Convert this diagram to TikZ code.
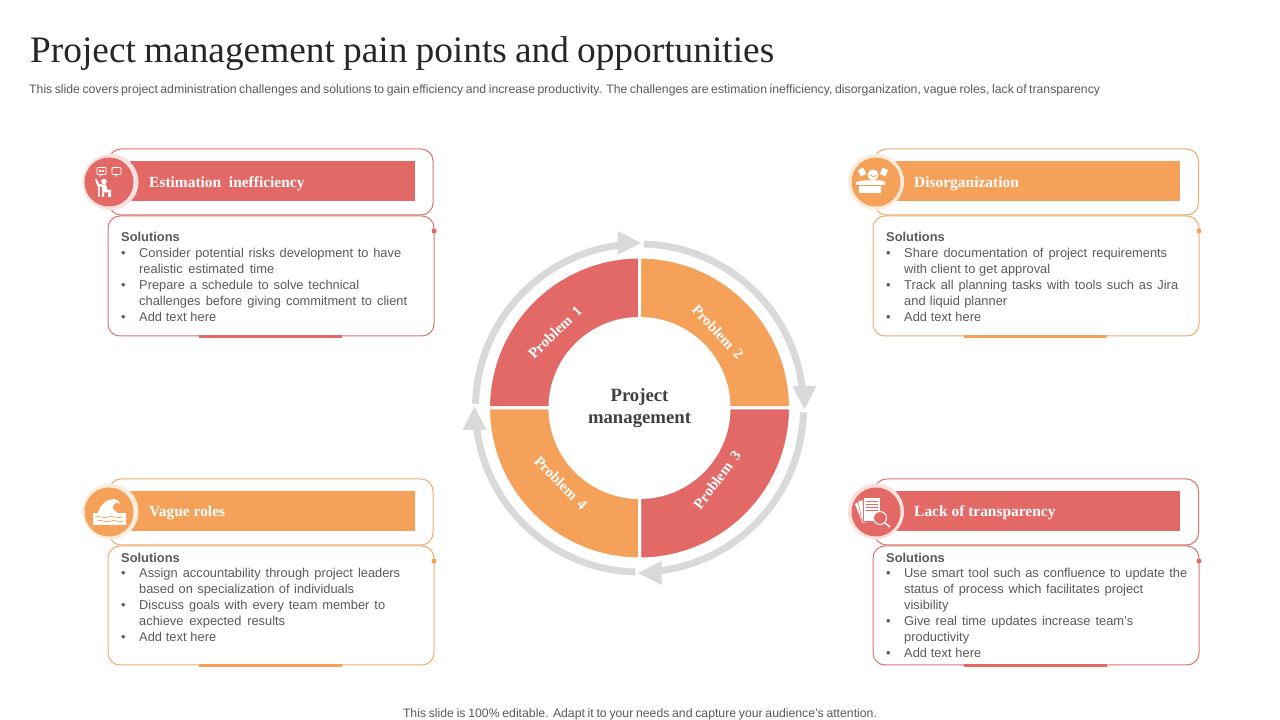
\documentclass[tikz,border=0pt]{standalone}
\usepackage{fontspec}
\setmainfont{Liberation Serif}
\setsansfont{Liberation Sans}
\definecolor{redband}{HTML}{E36966}
\definecolor{orgband}{HTML}{F6A159}
\definecolor{redline}{HTML}{D9746E}
\definecolor{orgline}{HTML}{EDAB70}
\definecolor{redpale}{HTML}{FAE1DE}
\definecolor{orgpale}{HTML}{FDECDC}
\definecolor{ringgray}{HTML}{D9D9D9}
\definecolor{bodytext}{HTML}{595959}
\definecolor{headtext}{HTML}{404040}
\newcommand{\lne}[2]{\makebox[#1bp][s]{#2}}
\newcommand{\bul}[2]{\makebox[18bp][l]{\textbullet}\lne{#1}{#2}}
\newcommand{\cnt}[2]{\hspace*{18bp}\lne{#1}{#2}}
\newcommand{\iconest}{%
  \draw [white,line width=.8bp,rounded corners=1bp] (-12,7.5) rectangle (-3,14.5);
  \draw [white,line width=.8bp,rounded corners=1bp] (3,7.5) rectangle (12,14.5);
  \fill [white] (-9,11) circle (1.3) (-6,11) circle (1.3) (-9,7.5) -- (-7,7.5) -- (-9,5) -- cycle (5,7.5) -- (7,7.5) -- (8,5) -- cycle;
  \fill [white] (-5,0.5) circle (2.8);
  \fill [white] (-7,-2.5) -- (-3,-2.5) -- (-1.5,-8) -- (2,-8) -- (2,-10.5) -- (-7,-10.5) -- cycle;
  \fill [white] (-14,3) -- (-12.5,3) -- (-10,-2) -- (-7,-2.5) -- (-7,-5) -- (-11.5,-4.5) -- cycle;
  \fill [white] (-1,-10.5) rectangle (2,-15) (-7,-10.5) rectangle (-5,-15) (-11,-5) rectangle (-9.5,-15);}
\newcommand{\icondis}{%
  \fill [white,rotate around={25:(-14,10)}] (-17,6.5) rectangle (-11,13.5);
  \fill [white,rotate around={-25:(8,10)}] (5,6.5) rectangle (11,13.5);
  \fill [white] (-3,7) circle (5.5);
  \draw [orgband,line width=.8bp] (-6,7) -- (-2,5) -- (0,7);
  \fill [white] (-12,1.5) -- (5,1.5) -- (9,0) -- (9,-3) -- (5,-3) -- (5,-11) -- (-17,-11) -- (-17,-3) -- (-20,-3) -- (-20,0) -- cycle;
  \draw [orgband,line width=.6bp] (-17,-3) -- (5,-3);}
\newcommand{\iconvag}{%
  \fill [white] (-16,-1) rectangle (17,-13);
  \fill [white] (-11,-1) .. controls (-9,7) and (-2,13) .. (5,13) .. controls (8,13) and (10,11) .. (11,8) .. controls (8,10) and (5,9) .. (4,6) .. controls (3,4) and (5,1) .. (9,-1) -- cycle;
  \draw [orgband,line width=.7bp] (-14,-5) .. controls (-10,-3) and (-6,-7) .. (-1,-5) .. controls (4,-3) and (8,-7) .. (14,-5);
  \draw [orgband,line width=.7bp] (-12,-9) .. controls (-8,-7) and (-3,-11) .. (2,-9) .. controls (6,-7) and (10,-11) .. (15,-9);}
\newcommand{\iconlac}{%
  \draw [redband,fill=white,line width=.5bp,rotate around={22:(-6,-9)}] (-14,-9) rectangle (2,13);
  \draw [redband,fill=white,line width=.5bp,rotate around={11:(-6,-9)}] (-14,-9) rectangle (2,13);
  \draw [redband,fill=white,line width=.5bp] (-13,-9) rectangle (4.5,14.5);
  \foreach \ly in {11,8,5,2} {\draw [redband,line width=.7bp] (-10,\ly) -- (2,\ly);}
  \draw [white,fill=redband,line width=1bp] (4,-6) circle (6.5);
  \draw [white,line width=1.4bp] (8.6,-10.6) -- (14,-15);}
\tikzset{
  headbox/.style={draw,rounded corners=12bp,line width=1bp,minimum width=324bp,minimum height=66bp},
  bodybox/.style={draw,rounded corners=12bp,line width=1bp,minimum width=326bp},
  band/.style={inner sep=0pt,minimum width=285bp,minimum height=40bp},
  bandtext/.style={anchor=west,inner sep=0pt,text=white,font=\fontsize{15.5}{18}\selectfont\bfseries},
  halo/.style={circle,inner sep=0pt,minimum size=56bp},
  disc/.style={circle,inner sep=0pt,minimum size=49bp},
  bartip/.style={inner sep=0pt,minimum width=143bp,minimum height=3bp,xshift=-1bp},
  tipdot/.style={circle,inner sep=0pt,minimum size=5bp},
  sol/.style={anchor=north west,inner sep=0pt,align=left,text=bodytext,font=\sffamily\fontsize{12.9}{16}\selectfont},
  probtext/.style={inner sep=0pt,text=white,font=\fontsize{15}{18}\selectfont\bfseries},
  sector/.style={draw=white,line width=3bp},
  ringarrow/.style={draw=ringgray,line width=7bp},
}
\begin{document}
\begin{tikzpicture}[>=latex,line join=bevel,]
\useasboundingbox (0bp,0bp) rectangle (1280bp,720bp);
%% heading
\node (node_title) at (30bp,666bp) [anchor=west,inner sep=0pt,text=black!85,font=\fontsize{37.5}{42}\selectfont] {\lne{744}{Project management pain points and opportunities}};
\node (node_sub) at (29bp,630bp) [anchor=west,inner sep=0pt,text=bodytext,font=\sffamily\fontsize{12.3}{14}\selectfont] {\lne{1071}{This slide covers project administration challenges and solutions to gain efficiency and increase productivity. The challenges are estimation inefficiency, disorganization, vague roles, lack of transparency}};
\node (node_foot) at (640bp,6bp) [inner sep=0pt,text=bodytext,font=\sffamily\fontsize{12.3}{14}\selectfont] {\lne{474}{This slide is 100\% editable. Adapt it to your needs and capture your audience's attention.}};
%% ring
\begin{scope}[shift={(639.5bp,312bp)}]
\foreach \a/\b/\c in {90/180/redband,0/90/orgband,-90/0/redband,180/270/orgband} {
  \filldraw [sector,fill=\c] (\a:89.5bp) -- (\a:151bp) arc [start angle=\a,end angle=\b,radius=151bp] -- (\b:89.5bp) arc [start angle=\b,end angle=\a,radius=89.5bp] -- cycle;
}
\foreach \r in {0,-90,-180,-270} {
  \begin{scope}[rotate=\r]
  \draw [ringarrow] (178.5:164bp) arc [start angle=178.5,end angle=97,radius=164bp];
  \fill [ringgray] (1.5bp,165bp) -- (-22bp,177bp) -- (-22bp,153bp) -- cycle;
  \end{scope}
}
\end{scope}
\node (node_centre) at (639.5bp,311.5bp) [inner sep=0pt,align=center,text=headtext,font=\fontsize{18.8}{22}\selectfont\bfseries] {Project\\management};
\node (node_p1) at (555bp,388bp) [probtext,rotate=44] {Problem\ \,1};
\node (node_p2) at (718bp,388bp) [probtext,rotate=-47] {Problem\ \,2};
\node (node_p3) at (717bp,240bp) [probtext,rotate=53] {Problem\ \,3};
\node (node_p4) at (561bp,237bp) [probtext,rotate=-45] {Problem\ \,4};
%% estimation inefficiency
\node (node_h1) at (271bp,538bp) [headbox,draw=redline] {};
\node (node_b1) at (272.5bp,539bp) [band,fill=redband] {};
\node (node_o1) at (110.5bp,538bp) [halo,fill=redpale] {};
\node (node_d1) at (109bp,538bp) [disc,fill=redband] {};
\begin{scope}[shift={(node_d1.center)},x=1bp,y=1bp]\iconest\end{scope}
\node (node_t1) at (149bp,536.5bp) [bandtext] {Estimation\ \ inefficiency};
\node (node_s1) at (271bp,444bp) [bodybox,draw=redline,minimum height=120bp] {};
\node (node_r1) at (node_s1.south) [bartip,fill=redband] {};
\node (node_e1) at (434bp,489bp) [tipdot,fill=redband] {};
\node (node_l1) at (121bp,488bp) [sol] {\textbf{Solutions}\\\bul{262}{Consider potential risks development  to have}\\\cnt{135}{realistic estimated time}\\\bul{220}{Prepare a schedule to solve technical}\\\cnt{268}{challenges before giving commitment to client}\\\bul{77}{Add text here}};
%% disorganization
\node (node_h2) at (1036.5bp,538bp) [headbox,draw=orgline] {};
\node (node_b2) at (1037.5bp,539bp) [band,fill=orgband] {};
\node (node_o2) at (876bp,538bp) [halo,fill=orgpale] {};
\node (node_d2) at (876bp,538bp) [disc,fill=orgband] {};
\begin{scope}[shift={(node_d2.center)},x=1bp,y=1bp]\icondis\end{scope}
\node (node_t2) at (914bp,536.5bp) [bandtext] {Disorganization};
\node (node_s2) at (1036bp,444bp) [bodybox,draw=orgline,minimum height=120bp] {};
\node (node_r2) at (node_s2.south) [bartip,fill=orgband] {};
\node (node_e2) at (1199bp,489bp) [tipdot,fill=orgband] {};
\node (node_l2) at (886bp,488bp) [sol] {\textbf{Solutions}\\\bul{263}{Share documentation of project requirements}\\\cnt{146}{with client to get approval}\\\bul{274}{Track  all planning tasks with tools such as Jira}\\\cnt{103}{and liquid planner}\\\bul{77}{Add text here}};
%% vague roles
\node (node_h3) at (271bp,208bp) [headbox,draw=orgline] {};
\node (node_b3) at (272.5bp,209bp) [band,fill=orgband] {};
\node (node_o3) at (110.5bp,208.5bp) [halo,fill=orgpale] {};
\node (node_d3) at (109bp,208bp) [disc,fill=orgband] {};
\begin{scope}[shift={(node_d3.center)},x=1bp,y=1bp]\iconvag\end{scope}
\node (node_t3) at (149bp,207.5bp) [bandtext] {Vague roles};
\node (node_s3) at (271bp,114.5bp) [bodybox,draw=orgline,minimum height=119bp] {};
\node (node_r3) at (node_s3.south) [bartip,fill=orgband] {};
\node (node_e3) at (434bp,159bp) [tipdot,fill=orgband] {};
\node (node_l3) at (121bp,167.5bp) [sol] {\textbf{Solutions}\\\bul{261}{Assign accountability through  project leaders}\\\cnt{215}{based on specialization of individuals}\\\bul{246}{Discuss goals with every team member to}\\\cnt{146}{achieve expected results}\\\bul{77}{Add text here}};
%% lack of transparency
\node (node_h4) at (1036.5bp,208bp) [headbox,draw=redline] {};
\node (node_b4) at (1037.5bp,209bp) [band,fill=redband] {};
\node (node_o4) at (876bp,208.5bp) [halo,fill=redpale] {};
\node (node_d4) at (876bp,208bp) [disc,fill=redband] {};
\begin{scope}[shift={(node_d4.center)},x=1bp,y=1bp]\iconlac\end{scope}
\node (node_t4) at (914bp,207.5bp) [bandtext] {Lack of transparency};
\node (node_s4) at (1036bp,114.5bp) [bodybox,draw=redline,minimum height=119bp] {};
\node (node_r4) at (node_s4.south) [bartip,fill=redband] {};
\node (node_e4) at (1199bp,159bp) [tipdot,fill=redband] {};
\node (node_l4) at (886bp,167.5bp) [sol] {\textbf{Solutions}\\\bul{283}{Use smart tool such as confluence to update the}\\\cnt{239}{status of process which facilitates project}\\\hspace*{18bp}visibility\\\bul{229}{Give real time updates increase team's}\\\hspace*{18bp}productivity\\\bul{77}{Add text here}};
%
\end{tikzpicture}
\end{document}
